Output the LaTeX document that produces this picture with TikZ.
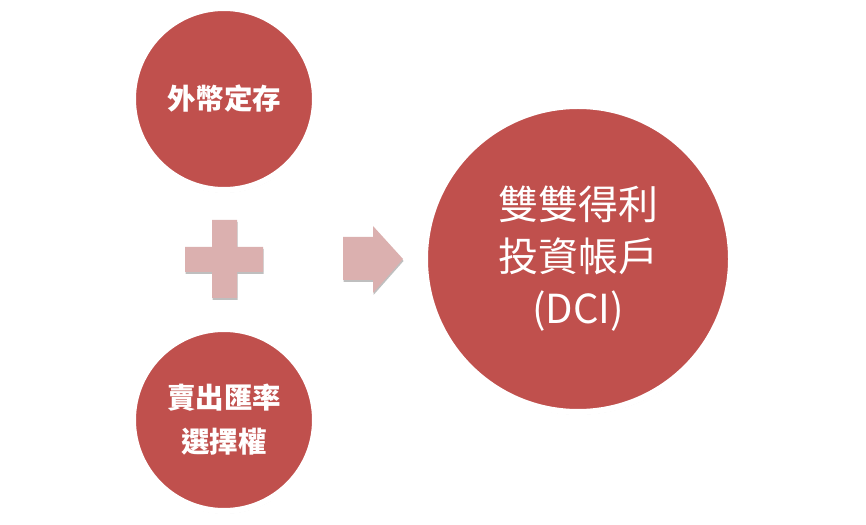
\documentclass[tikz,border=0pt]{standalone}
\usepackage{fontspec}
\newfontfamily\cjk{Noto Sans CJK TC}
\usetikzlibrary{shadows}
\definecolor{dcired}{HTML}{C0504D}
\definecolor{dcipink}{HTML}{DBB0AF}
\begin{document}
\begin{tikzpicture}[x=1bp,y=-1bp,
  bubble/.style={circle, fill=dcired, draw=white, line width=6bp, inner sep=0pt,
    text=white, align=center,
    drop shadow={shadow xshift=0.5bp, shadow yshift=-2.5bp, opacity=0.22, fill=black}},
  smallbub/.style={bubble, minimum size=182bp, font=\cjk\bfseries\fontsize{28.5bp}{44bp}\selectfont},
  bigbub/.style={bubble, minimum size=306bp, font=\cjk\fontsize{40bp}{52bp}\selectfont},
  pinkshape/.style={fill=dcipink, drop shadow={shadow xshift=0.5bp, shadow yshift=-2bp, opacity=0.25, fill=black}}]
\useasboundingbox (0,0) rectangle (866,525);
\node[smallbub] (fx) at (224,99) {外幣定存};
\node[smallbub] (opt) at (224,420) {賣出匯率\\選擇權};
\node[bigbub] (dci) at (578,259) {雙雙得利\\投資帳戶\\(DCI)};
\path[pinkshape] (212,220) -- (237,220) -- (237,247) -- (263,247) -- (263,272) -- (237,272)
  -- (237,298) -- (212,298) -- (212,272) -- (185,272) -- (185,247) -- (212,247) -- cycle;
\path[pinkshape] (343,237) -- (373,237) -- (373,226) -- (403,259) -- (373,293) -- (373,280)
  -- (343,280) -- cycle;
\end{tikzpicture}
\end{document}
